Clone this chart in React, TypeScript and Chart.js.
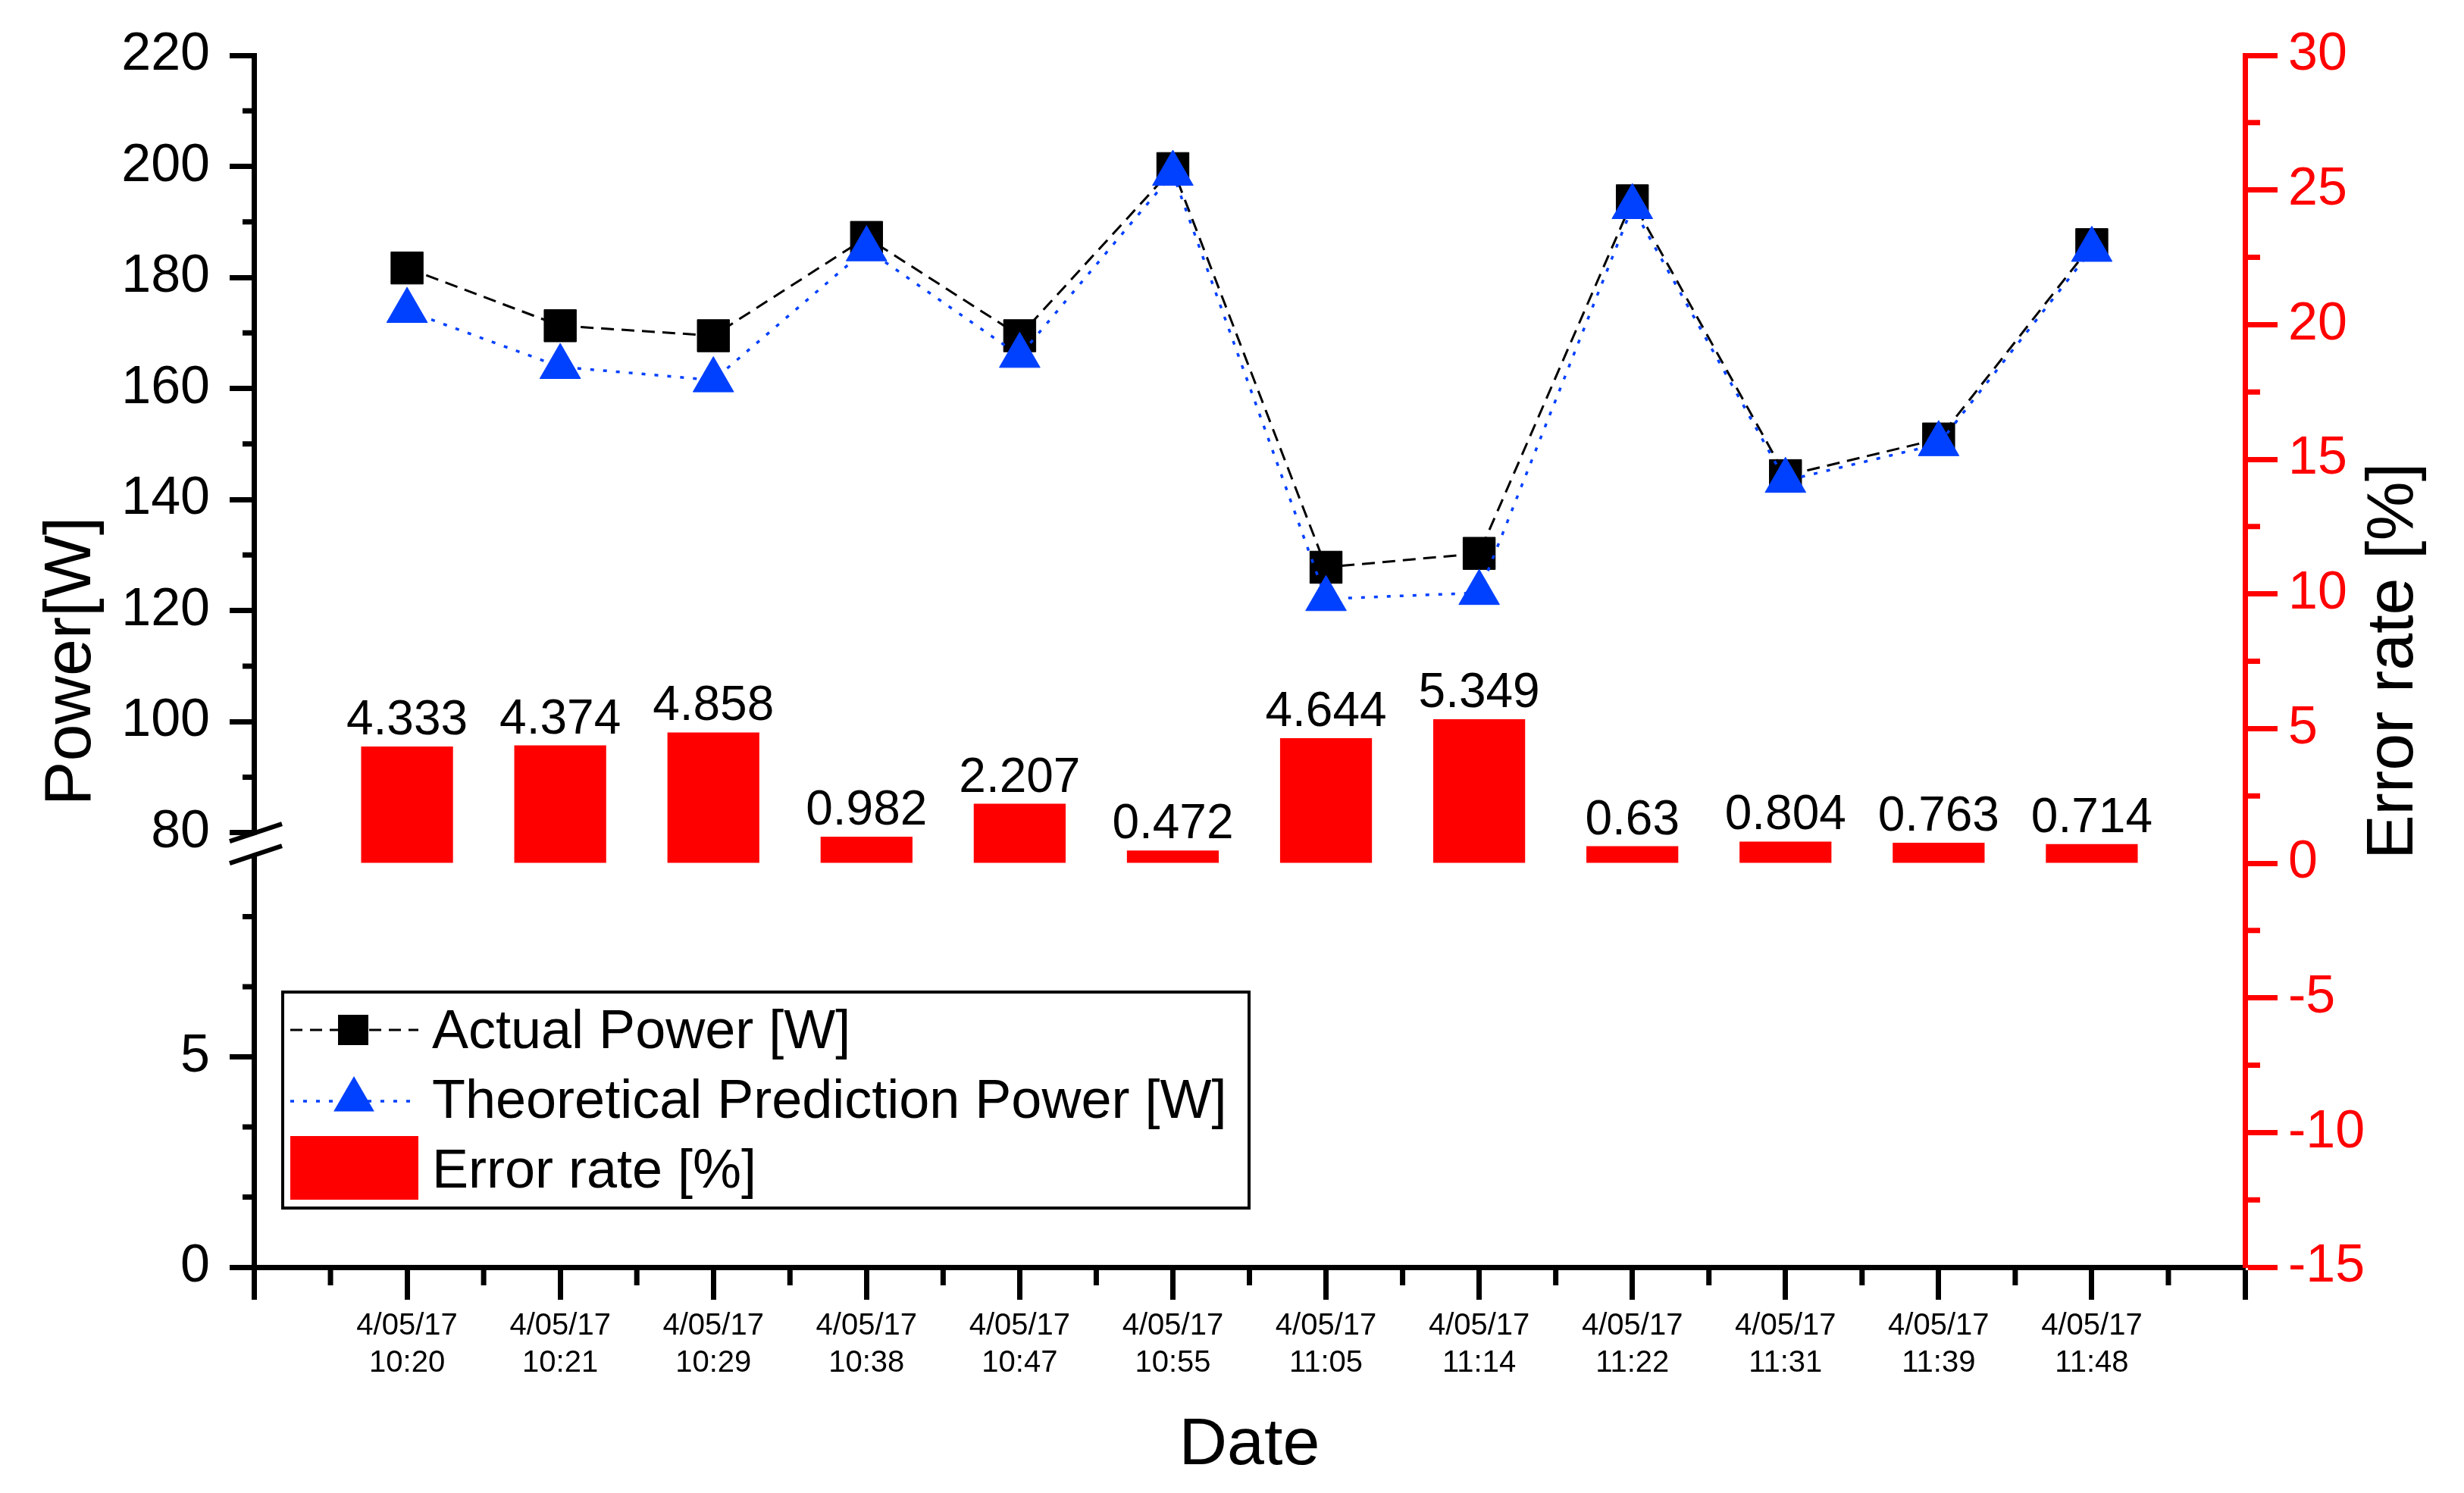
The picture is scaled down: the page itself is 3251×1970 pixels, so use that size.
import React, { useEffect, useRef } from 'react';
import { Chart, registerables } from 'chart.js';

Chart.register(...registerables);

const FONT = "'Liberation Sans', Arial, Helvetica, sans-serif";

// Data
const dates = ['4/05/17', '4/05/17', '4/05/17', '4/05/17', '4/05/17', '4/05/17', '4/05/17', '4/05/17', '4/05/17', '4/05/17', '4/05/17', '4/05/17'];
const times = ['10:20', '10:21', '10:29', '10:38', '10:47', '10:55', '11:05', '11:14', '11:22', '11:31', '11:39', '11:48'];
const actualPower = [181.7, 171.3, 169.5, 187.2, 169.5, 199.6, 127.8, 130.3, 193.8, 144.3, 150.9, 185.9];
const predictedPower = [174.0, 163.9, 161.5, 185.1, 165.9, 198.7, 122.1, 123.2, 192.7, 143.4, 150.0, 185.0];
const errorRate = [4.333, 4.374, 4.858, 0.982, 2.207, 0.472, 4.644, 5.349, 0.63, 0.804, 0.763, 0.714];

const upperMinor = [90, 110, 130, 150, 170, 190, 210];
const lowerMinor = [5 / 3, 10 / 3, 20 / 3, 25 / 3];
const rightMinor = [-12.5, -7.5, -2.5, 2.5, 7.5, 12.5, 17.5, 22.5, 27.5];

// one empty slot on each side of the date axis
const labels = ['', ...times.map((t, i) => [dates[i], t]), ''];
const pad = (arr: number[]) => [null, ...arr, null];

const RED = '#FF0000';
const BLUE = '#0040FF';

const decorPlugin = {
  id: 'decor',
  afterDatasetsDraw(chart: any) {
    const { ctx } = chart;
    const meta = chart.getDatasetMeta(0);
    ctx.save();
    ctx.fillStyle = '#000';
    ctx.font = `64px ${FONT}`;
    ctx.textAlign = 'center';
    ctx.textBaseline = 'alphabetic';
    meta.data.forEach((el: any, i: number) => {
      const v = chart.data.datasets[0].data[i];
      if (v == null) return;
      ctx.fillText(String(v), el.x, el.y - 16);
    });
    ctx.restore();
  },
  afterDraw(chart: any) {
    const { ctx, chartArea: ca, scales } = chart;
    ctx.save();
    ctx.lineCap = 'butt';
    ctx.lineWidth = 7;

    // minor ticks
    ctx.strokeStyle = '#000';
    ctx.beginPath();
    upperMinor.forEach((v) => {
      const y = scales.yTop.getPixelForValue(v);
      ctx.moveTo(ca.left - 15, y);
      ctx.lineTo(ca.left, y);
    });
    lowerMinor.forEach((v) => {
      const y = scales.yLow.getPixelForValue(v);
      ctx.moveTo(ca.left - 15, y);
      ctx.lineTo(ca.left, y);
    });
    for (let i = 0; i < labels.length - 1; i++) {
      const x = (scales.x.getPixelForValue(i) + scales.x.getPixelForValue(i + 1)) / 2;
      ctx.moveTo(x, ca.bottom);
      ctx.lineTo(x, ca.bottom + 24);
    }
    ctx.stroke();

    ctx.strokeStyle = RED;
    ctx.beginPath();
    rightMinor.forEach((v) => {
      const y = scales.yR.getPixelForValue(v);
      ctx.moveTo(ca.right, y);
      ctx.lineTo(ca.right + 20, y);
    });
    ctx.stroke();

    // axis break
    const ax = ca.left;
    const yc = scales.yTop.bottom - 3;
    const l1 = (x: number) => yc - 14.5 - (x - ax) / 3;
    const l2 = (x: number) => yc + 14.5 - (x - ax) / 3;
    ctx.fillStyle = '#fff';
    ctx.beginPath();
    ctx.moveTo(ax - 7, l1(ax - 7) + 3);
    ctx.lineTo(ax + 7, l1(ax + 7) + 3);
    ctx.lineTo(ax + 7, l2(ax + 7) - 3);
    ctx.lineTo(ax - 7, l2(ax - 7) - 3);
    ctx.closePath();
    ctx.fill();
    ctx.strokeStyle = '#000';
    ctx.lineWidth = 6;
    ctx.beginPath();
    ctx.moveTo(ax - 32, l1(ax - 32));
    ctx.lineTo(ax + 37, l1(ax + 37));
    ctx.moveTo(ax - 32, l2(ax - 32));
    ctx.lineTo(ax + 37, l2(ax + 37));
    ctx.stroke();

    // axis titles
    const midY = (ca.top + ca.bottom) / 2;
    ctx.fillStyle = '#000';
    ctx.font = `88px ${FONT}`;
    ctx.textAlign = 'center';
    ctx.textBaseline = 'alphabetic';
    ctx.fillText('Date', (ca.left + ca.right) / 2, 1932);
    ctx.save();
    ctx.translate(119, midY);
    ctx.rotate(-Math.PI / 2);
    ctx.fillText('Power[W]', 0, 0);
    ctx.restore();
    ctx.save();
    ctx.translate(ca.right + 221, midY);
    ctx.rotate(-Math.PI / 2);
    ctx.fillText('Error rate [%]', 0, 0);
    ctx.restore();

    // legend
    const lx = ca.left + 38;
    const ly = ca.top + 1236;
    ctx.lineWidth = 4;
    ctx.strokeStyle = '#000';
    ctx.strokeRect(lx, ly, 1275, 285);

    const r1 = ly + 50;
    ctx.lineWidth = 3;
    ctx.setLineDash([16, 10]);
    ctx.beginPath();
    ctx.moveTo(lx + 10, r1);
    ctx.lineTo(lx + 179, r1);
    ctx.stroke();
    ctx.setLineDash([]);
    ctx.fillStyle = '#000';
    ctx.fillRect(lx + 93 - 20, r1 - 20, 40, 40);

    const r2 = ly + 144;
    ctx.strokeStyle = BLUE;
    ctx.lineWidth = 3.5;
    ctx.setLineDash([5, 12]);
    ctx.beginPath();
    ctx.moveTo(lx + 10, r2);
    ctx.lineTo(lx + 179, r2);
    ctx.stroke();
    ctx.setLineDash([]);
    const tcx = lx + 94;
    const tcy = ly + 142;
    const tr = 31;
    ctx.fillStyle = BLUE;
    ctx.beginPath();
    ctx.moveTo(tcx, tcy - tr);
    ctx.lineTo(tcx + tr * Math.sin((2 * Math.PI) / 3), tcy + tr / 2);
    ctx.lineTo(tcx - tr * Math.sin((2 * Math.PI) / 3), tcy + tr / 2);
    ctx.closePath();
    ctx.fill();

    ctx.fillStyle = RED;
    ctx.fillRect(lx + 10, ly + 190, 169, 84);

    ctx.fillStyle = '#000';
    ctx.font = `72px ${FONT}`;
    ctx.textAlign = 'left';
    ctx.fillText('Actual Power [W]', lx + 197, ly + 74);
    ctx.fillText('Theoretical Prediction Power [W]', lx + 197, ly + 166);
    ctx.fillText('Error rate [%]', lx + 197, ly + 258);

    ctx.restore();
  },
};

const PowerErrorChart: React.FC = () => {
  const chartRef = useRef<HTMLCanvasElement>(null);

  useEffect(() => {
    if (!chartRef.current) return;
    Chart.defaults.font.family = FONT;
    Chart.defaults.color = '#000';

    const chart = new Chart(chartRef.current, {
      type: 'bar',
      data: {
        labels,
        datasets: [
          {
            type: 'bar',
            label: 'Error rate [%]',
            data: pad(errorRate),
            yAxisID: 'yR',
            backgroundColor: RED,
            borderWidth: 0,
            barPercentage: 0.6,
            categoryPercentage: 1,
            order: 3,
          },
          {
            type: 'line',
            label: 'Actual Power [W]',
            data: pad(actualPower),
            yAxisID: 'yTop',
            borderColor: '#000',
            borderWidth: 3,
            borderDash: [17, 10],
            pointStyle: 'rect',
            pointRadius: 30,
            pointBackgroundColor: '#000',
            pointBorderColor: '#000',
            pointBorderWidth: 1,
            fill: false,
            tension: 0,
            order: 2,
          },
          {
            type: 'line',
            label: 'Theoretical Prediction Power [W]',
            data: pad(predictedPower),
            yAxisID: 'yTop',
            borderColor: BLUE,
            borderWidth: 3.5,
            borderDash: [5, 12],
            pointStyle: 'triangle',
            pointRadius: 31,
            pointBackgroundColor: BLUE,
            pointBorderColor: BLUE,
            pointBorderWidth: 1,
            fill: false,
            tension: 0,
            order: 1,
          },
        ] as any,
      },
      options: {
        animation: false,
        responsive: true,
        maintainAspectRatio: false,
        events: [],
        layout: { padding: { top: 73, left: 0, right: 0, bottom: 0 } },
        plugins: {
          legend: { display: false },
          tooltip: { enabled: false },
        },
        scales: {
          x: {
            type: 'category',
            position: 'bottom',
            offset: false,
            border: { display: true, color: '#000', width: 7 },
            grid: { offset: false, drawOnChartArea: false, tickLength: 43, tickWidth: 7, tickColor: '#000' },
            ticks: {
              color: '#000',
              font: { size: 40, lineHeight: 1.22 },
              padding: 11,
              maxRotation: 0,
              autoSkip: false,
            },
            afterFit: (s: any) => { s.height = 298; },
          },
          yTop: {
            type: 'linear',
            position: 'left',
            stack: 'power',
            stackWeight: 1044,
            weight: 2,
            min: 77.5,
            max: 220,
            border: { display: true, color: '#000', width: 7 },
            grid: { drawOnChartArea: false, tickLength: 32, tickWidth: 7, tickColor: '#000' },
            ticks: { stepSize: 20, includeBounds: false, color: '#000', font: { size: 70 }, padding: 26 },
            afterFit: (s: any) => { s.width = 335; },
          },
          yLow: {
            type: 'linear',
            position: 'left',
            stack: 'power',
            stackWeight: 555,
            weight: 1,
            min: 0,
            max: 10,
            border: { display: true, color: '#000', width: 7 },
            grid: {
              drawOnChartArea: false,
              tickLength: 32,
              tickWidth: 7,
              tickColor: (c: any) => (c.tick && c.tick.value === 10 ? 'rgba(0,0,0,0)' : '#000'),
            },
            ticks: {
              stepSize: 5,
              color: '#000',
              font: { size: 70 },
              padding: 26,
              callback: (v: any) => (v === 10 ? '' : String(v)),
            },
            afterFit: (s: any) => { s.width = 335; },
          },
          yR: {
            type: 'linear',
            position: 'right',
            min: -15,
            max: 30,
            border: { display: true, color: RED, width: 7 },
            grid: { drawOnChartArea: false, tickLength: 43, tickWidth: 7, tickColor: RED },
            ticks: { stepSize: 5, color: RED, font: { size: 70 }, padding: 14 },
            afterFit: (s: any) => { s.width = 289; },
          },
        },
      } as any,
      plugins: [decorPlugin],
    });

    return () => chart.destroy();
  }, []);

  return (
    <div style={{ position: 'absolute', left: 0, top: 0, width: 3251, height: 1970, background: '#fff' }}>
      <canvas ref={chartRef}></canvas>
    </div>
  );
};

export default function App() {
  return <PowerErrorChart />;
}
